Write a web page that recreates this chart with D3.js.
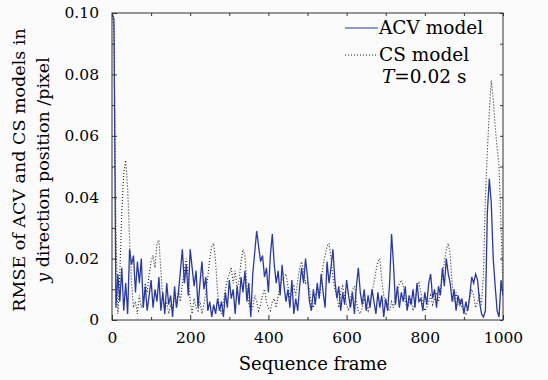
<!DOCTYPE html>
<html><head><meta charset="utf-8">
<script src="https://cdn.jsdelivr.net/npm/d3@7"></script>
<style>
html,body{margin:0;padding:0;background:#fbfbfb;}
svg{display:block;}
text{font-family:"DejaVu Serif",serif;fill:#000;}
</style></head>
<body>
<svg id="chart" width="548" height="380"></svg>
<script>
// frames sampled every 5 from 0 to 1000
const frameStep = 5;
const acvValues = [
0.100,0.098,0.004,0.015,0.006,0.017,0.003,0.012,0.002,0.023,
0.018,0.021,0.009,0.019,0.012,0.020,0.004,0.011,0.003,0.008,
0.013,0.004,0.010,0.006,0.014,0.003,0.009,0.002,0.012,0.005,
0.008,0.001,0.011,0.004,0.009,0.016,0.023,0.012,0.018,0.008,
0.023,0.017,0.011,0.016,0.004,0.012,0.019,0.010,0.014,0.003,
0.006,0.001,0.005,0.002,0.007,0.003,0.006,0.001,0.009,0.004,
0.013,0.007,0.010,0.002,0.011,0.005,0.014,0.009,0.016,0.006,
0.012,0.001,0.015,0.022,0.029,0.024,0.019,0.021,0.014,0.017,
0.009,0.021,0.028,0.018,0.012,0.016,0.008,0.018,0.011,0.006,
0.010,0.004,0.013,0.002,0.007,0.003,0.011,0.017,0.012,0.020,
0.014,0.006,0.003,0.010,0.005,0.012,0.007,0.015,0.009,0.004,
0.019,0.012,0.017,0.023,0.013,0.007,0.011,0.003,0.009,0.005,
0.013,0.008,0.004,0.009,0.002,0.011,0.017,0.009,0.005,0.010,
0.003,0.008,0.004,0.010,0.006,0.002,0.009,0.004,0.008,0.001,
0.007,0.003,0.012,0.028,0.018,0.005,0.011,0.004,0.009,0.006,
0.011,0.003,0.008,0.005,0.010,0.004,0.012,0.006,0.007,0.003,
0.009,0.005,0.012,0.015,0.007,0.010,0.004,0.011,0.008,0.017,
0.011,0.020,0.015,0.012,0.006,0.010,0.003,0.008,0.005,0.007,
0.002,0.006,0.003,0.008,0.014,0.012,0.015,0.013,0.006,0.002,
0.001,0.003,0.035,0.046,0.038,0.020,0.011,0.003,0.001,0.013,
0.008
];
const csValues = [
0.100,0.095,0.030,0.002,0.015,0.035,0.048,0.052,0.043,0.026,
0.012,0.004,0.006,0.002,0.008,0.004,0.006,0.012,0.009,0.015,
0.019,0.021,0.017,0.025,0.026,0.016,0.007,0.003,0.006,0.002,
0.005,0.003,0.008,0.004,0.010,0.006,0.012,0.016,0.020,0.014,
0.006,0.002,0.007,0.004,0.003,0.006,0.002,0.005,0.009,0.014,
0.020,0.024,0.025,0.019,0.009,0.004,0.002,0.006,0.010,0.013,
0.015,0.017,0.012,0.016,0.010,0.013,0.019,0.023,0.021,0.011,
0.005,0.003,0.004,0.008,0.006,0.003,0.005,0.008,0.010,0.006,
0.004,0.003,0.006,0.007,0.004,0.008,0.011,0.013,0.014,0.015,
0.011,0.007,0.009,0.011,0.008,0.013,0.017,0.019,0.016,0.012,
0.013,0.010,0.005,0.004,0.008,0.010,0.007,0.012,0.018,0.021,
0.024,0.025,0.020,0.014,0.010,0.008,0.004,0.009,0.011,0.008,
0.005,0.003,0.007,0.010,0.011,0.006,0.003,0.002,0.004,0.007,
0.005,0.003,0.006,0.009,0.012,0.016,0.019,0.020,0.013,0.008,
0.005,0.004,0.003,0.006,0.004,0.008,0.010,0.012,0.013,0.011,
0.006,0.004,0.005,0.007,0.003,0.006,0.010,0.012,0.009,0.005,
0.003,0.004,0.006,0.008,0.005,0.007,0.009,0.006,0.010,0.014,
0.019,0.023,0.025,0.021,0.012,0.006,0.009,0.005,0.007,0.004,
0.003,0.002,0.004,0.007,0.010,0.008,0.004,0.006,0.008,0.005,
0.015,0.040,0.055,0.068,0.078,0.072,0.063,0.056,0.050,0.030,
0.010
];
const xTicks = [0,200,400,600,800,1000];
const xMinorTicks = [100,300,500,700,900];
const yTicks = [0,0.02,0.04,0.06,0.08,0.10];
const yTickLabels = ["0","0.02","0.04","0.06","0.08","0.10"];
const yMinorTicks = [0.01,0.03,0.05,0.07,0.09];
const seriesNames = ["ACV model","CS model"];

const svg = d3.select("#chart");
const L=112, R=503, T=13, B=320;
const x = d3.scaleLinear().domain([0,1000]).range([L,R]);
const y = d3.scaleLinear().domain([0,0.1]).range([B,T]);

svg.append("clipPath").attr("id","clip").append("rect")
  .attr("x",L).attr("y",T).attr("width",R-L).attr("height",B-T);

const line = d3.line().x((d,i)=>x(i*frameStep)).y(d=>y(d));

const g = svg.append("g").attr("clip-path","url(#clip)");
g.append("path").datum(csValues).attr("d",line)
  .attr("fill","none").attr("stroke","#222").attr("stroke-width",1.1)
  .attr("stroke-dasharray","1,2");
g.append("path").datum(acvValues).attr("d",line)
  .attr("fill","none").attr("stroke","#2a3a9c").attr("stroke-width",1.3);

// frame
svg.append("rect").attr("x",L).attr("y",T).attr("width",R-L).attr("height",B-T)
  .attr("fill","none").attr("stroke","#333").attr("stroke-width",1);

// axes with inward ticks
const fmt = d => yTickLabels[yTicks.indexOf(d)];
const ax = svg.append("g");
ax.append("g").attr("transform",`translate(0,${B})`)
  .call(d3.axisBottom(x).tickValues(xTicks).tickSizeInner(-5).tickSizeOuter(0).tickPadding(12).tickFormat(d3.format("d")));
ax.append("g").attr("transform",`translate(0,${B})`)
  .call(d3.axisBottom(x).tickValues(xMinorTicks).tickSizeInner(-3).tickSizeOuter(0).tickFormat(""));
ax.append("g").attr("transform",`translate(0,${T})`)
  .call(d3.axisTop(x).tickValues(xTicks.concat(xMinorTicks)).tickSizeInner(-3).tickSizeOuter(0).tickFormat(""));
ax.append("g").attr("transform",`translate(${L},0)`)
  .call(d3.axisLeft(y).tickValues(yTicks).tickSizeInner(-5).tickSizeOuter(0).tickPadding(13).tickFormat(fmt));
ax.append("g").attr("transform",`translate(${L},0)`)
  .call(d3.axisLeft(y).tickValues(yMinorTicks).tickSizeInner(-3).tickSizeOuter(0).tickFormat(""));
ax.append("g").attr("transform",`translate(${R},0)`)
  .call(d3.axisRight(y).tickValues(yTicks.concat(yMinorTicks)).tickSizeInner(-3).tickSizeOuter(0).tickFormat(""));
ax.selectAll(".domain").remove();
ax.selectAll(".tick line").attr("stroke","#333");
ax.selectAll(".tick text").attr("font-family","DejaVu Serif, serif").attr("font-size",15.5).attr("fill","#000");

// axis titles
svg.append("text").attr("x",313).attr("y",370).attr("text-anchor","middle")
  .attr("font-size",18).text("Sequence frame");
const yl = svg.append("text").attr("transform","translate(25,170) rotate(-90)")
  .attr("text-anchor","middle").attr("font-size",17.5).text("RMSE of ACV and CS models in");
const yl2 = svg.append("text").attr("transform","translate(49,170) rotate(-90)")
  .attr("text-anchor","middle").attr("font-size",17.5);
yl2.append("tspan").attr("font-style","italic").text("y");
yl2.append("tspan").text(" direction position /pixel");

// legend
const lg = svg.append("g");
lg.append("line").attr("x1",345).attr("x2",378).attr("y1",28).attr("y2",28)
  .attr("stroke","#2a3a9c").attr("stroke-width",1.2);
lg.append("text").attr("x",379).attr("y",34).attr("font-size",18.5).text(seriesNames[0]);
lg.append("line").attr("x1",345).attr("x2",378).attr("y1",55).attr("y2",55)
  .attr("stroke","#222").attr("stroke-width",1.1).attr("stroke-dasharray","1,2");
lg.append("text").attr("x",379).attr("y",61).attr("font-size",18.5).text(seriesNames[1]);
const tt = lg.append("text").attr("x",382).attr("y",83).attr("font-size",18.5);
tt.append("tspan").attr("font-style","italic").text("T");
tt.append("tspan").text("=0.02 s");
</script>
</body></html>
